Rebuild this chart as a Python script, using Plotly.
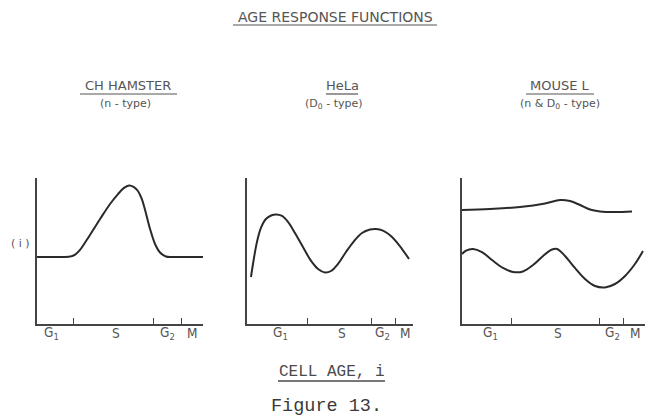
import plotly.graph_objects as go

# Cell age as a fraction of the cycle (0 = start of G1, 1 = end of M)
# and relative survival response (0 = axis origin, 1 = top of axis).

# CH hamster (n-type)
hamster_age = [0.0, 0.11, 0.20, 0.23, 0.259, 0.319, 0.380, 0.440, 0.488, 0.524,
               0.554, 0.584, 0.608, 0.630, 0.651, 0.681, 0.711, 0.741, 0.777,
               0.82, 0.90, 1.0]
hamster_resp = [0.459, 0.459, 0.462, 0.475, 0.507, 0.610, 0.719, 0.822, 0.890,
                0.932, 0.949, 0.938, 0.911, 0.860, 0.781, 0.651, 0.548, 0.490,
                0.462, 0.459, 0.459, 0.459]

# HeLa (D0-type)
hela_age = [0.024, 0.042, 0.060, 0.084, 0.114, 0.145, 0.175, 0.211, 0.247,
            0.289, 0.337, 0.386, 0.428, 0.470, 0.506, 0.548, 0.596, 0.645,
            0.693, 0.741, 0.777, 0.819, 0.867, 0.916, 0.976]
hela_resp = [0.322, 0.452, 0.562, 0.658, 0.719, 0.743, 0.750, 0.740, 0.699,
             0.623, 0.527, 0.432, 0.377, 0.353, 0.363, 0.411, 0.493, 0.568,
             0.623, 0.647, 0.651, 0.640, 0.603, 0.541, 0.445]

# Mouse L (n & D0-type): upper and lower response curves
mouse_upper_age = [0.0, 0.153, 0.317, 0.454, 0.536, 0.590, 0.645, 0.699,
                   0.754, 0.836, 0.929]
mouse_upper_resp = [0.781, 0.788, 0.801, 0.825, 0.849, 0.842, 0.815, 0.784,
                    0.771, 0.767, 0.771]
mouse_lower_age = [0.0, 0.022, 0.060, 0.109, 0.164, 0.224, 0.279, 0.333,
                   0.388, 0.443, 0.492, 0.519, 0.563, 0.617, 0.672, 0.727,
                   0.781, 0.836, 0.891, 0.945, 0.989]
mouse_lower_resp = [0.479, 0.503, 0.514, 0.493, 0.438, 0.384, 0.356, 0.360,
                    0.404, 0.466, 0.510, 0.514, 0.466, 0.384, 0.308, 0.260,
                    0.250, 0.274, 0.329, 0.411, 0.500]

# Phase boundaries (tick marks) and phase label positions per panel
phase_labels = ["G<sub>1</sub>", "S", "G<sub>2</sub>", "M"]
hamster_ticks = [0.217, 0.699, 0.873]
hamster_label_pos = [0.09, 0.476, 0.789, 0.934]
hela_ticks = [0.367, 0.747, 0.892]
hela_label_pos = [0.199, 0.572, 0.819, 0.952]
mouse_ticks = [0.273, 0.749, 0.885]
mouse_label_pos = [0.153, 0.525, 0.820, 0.945]

panel_titles = ["CH HAMSTER", "HeLa", "MOUSE L"]
panel_subtitles = ["(n - type)", "(D<sub>0</sub> - type)", "(n & D<sub>0</sub> - type)"]

W, H = 645, 418
LINE = "#2a2a2a"
AXIS = "#444444"
TEXT = "#555555"
LETTER = "DejaVu Sans, sans-serif"
LETTER_NARROW = "DejaVu Sans Condensed, DejaVu Sans, sans-serif"
TYPE = "Liberation Mono, DejaVu Sans Mono, monospace"


def fx(p):
    return p / W


def fy(p):
    return 1 - p / H


fig = go.Figure()

panels = [
    ("x", "y", [(hamster_age, hamster_resp)], hamster_ticks, hamster_label_pos,
     (37, 203), 128, 125),
    ("x2", "y2", [(hela_age, hela_resp)], hela_ticks, hela_label_pos,
     (247, 413), 342, 334),
    ("x3", "y3", [(mouse_upper_age, mouse_upper_resp),
                  (mouse_lower_age, mouse_lower_resp)], mouse_ticks,
     mouse_label_pos, (462, 645), 560, 560),
]

y_dom = [fy(324), fy(178)]
layout_axes = {}
annotations = []
shapes = []

for i, (xa, ya, curves, ticks, lab_pos, xpx, tcx, scx) in enumerate(panels):
    for ages, resp in curves:
        fig.add_trace(go.Scatter(
            x=ages, y=resp, xaxis=xa, yaxis=ya, mode="lines",
            line=dict(color=LINE, width=2, shape="spline", smoothing=1.0),
            showlegend=False, hoverinfo="skip"))
    xname = "xaxis" if xa == "x" else "xaxis" + xa[1:]
    yname = "yaxis" if ya == "y" else "yaxis" + ya[1:]
    layout_axes[xname] = dict(
        domain=[fx(xpx[0]), fx(xpx[1])], range=[0, 1], anchor=ya,
        showline=True, linecolor=AXIS, linewidth=1.6, showgrid=False,
        zeroline=False, ticks="inside", ticklen=6, tickwidth=1.3,
        tickcolor=AXIS, tickvals=ticks, showticklabels=False, fixedrange=True)
    layout_axes[yname] = dict(
        domain=y_dom, range=[0, 1], anchor=xa, showline=True,
        linecolor=AXIS, linewidth=1.6, showgrid=False, zeroline=False,
        ticks="", showticklabels=False, fixedrange=True)
    for pos, lab in zip(lab_pos, phase_labels):
        annotations.append(dict(
            x=pos, y=fy(333), xref=xa, yref="paper", text=lab,
            showarrow=False, xanchor="center", yanchor="middle",
            font=dict(family=LETTER_NARROW, size=13.5, color=TEXT)))
    # panel heading and its subtitle
    annotations.append(dict(
        x=fx(tcx), y=fy(86), xref="paper", yref="paper", text=panel_titles[i],
        showarrow=False, xanchor="center", yanchor="middle",
        font=dict(family=LETTER, size=13, color=TEXT)))
    annotations.append(dict(
        x=fx(scx), y=fy(104), xref="paper", yref="paper",
        text=panel_subtitles[i], showarrow=False, xanchor="center",
        yanchor="middle", font=dict(family=LETTER, size=11, color=TEXT)))

# heading underlines
for x0, x1 in [(80, 177), (326, 358), (526, 594)]:
    shapes.append(dict(type="line", xref="paper", yref="paper",
                       x0=fx(x0), x1=fx(x1), y0=fy(94), y1=fy(94),
                       line=dict(color=TEXT, width=1.2)))

# figure title
annotations.append(dict(
    x=fx(335), y=fy(17), xref="paper", yref="paper",
    text="AGE RESPONSE FUNCTIONS", showarrow=False, xanchor="center",
    yanchor="middle", font=dict(family=LETTER, size=14, color=TEXT)))
shapes.append(dict(type="line", xref="paper", yref="paper",
                   x0=fx(233), x1=fx(437), y0=fy(25), y1=fy(25),
                   line=dict(color=TEXT, width=1.2)))

# y label
annotations.append(dict(
    x=fx(20), y=fy(243), xref="paper", yref="paper", text="( i )",
    showarrow=False, xanchor="center", yanchor="middle",
    font=dict(family=LETTER, size=11, color=TEXT)))

# x label
annotations.append(dict(
    x=fx(332), y=fy(372), xref="paper", yref="paper", text="CELL AGE, i",
    showarrow=False, xanchor="center", yanchor="middle",
    font=dict(family=TYPE, size=16, color="#4a4a4a")))
shapes.append(dict(type="line", xref="paper", yref="paper",
                   x0=fx(278), x1=fx(385), y0=fy(381), y1=fy(381),
                   line=dict(color="#4a4a4a", width=1.3)))

# caption
annotations.append(dict(
    x=fx(326), y=fy(406), xref="paper", yref="paper", text="Figure 13.",
    showarrow=False, xanchor="center", yanchor="middle",
    font=dict(family=TYPE, size=18.5, color="#3a3a3a")))

fig.update_layout(
    width=W, height=H, margin=dict(l=0, r=0, t=0, b=0),
    paper_bgcolor="white", plot_bgcolor="white",
    annotations=annotations, shapes=shapes, showlegend=False,
    **layout_axes)

fig.write_html("out.html", config={"displayModeBar": False})
